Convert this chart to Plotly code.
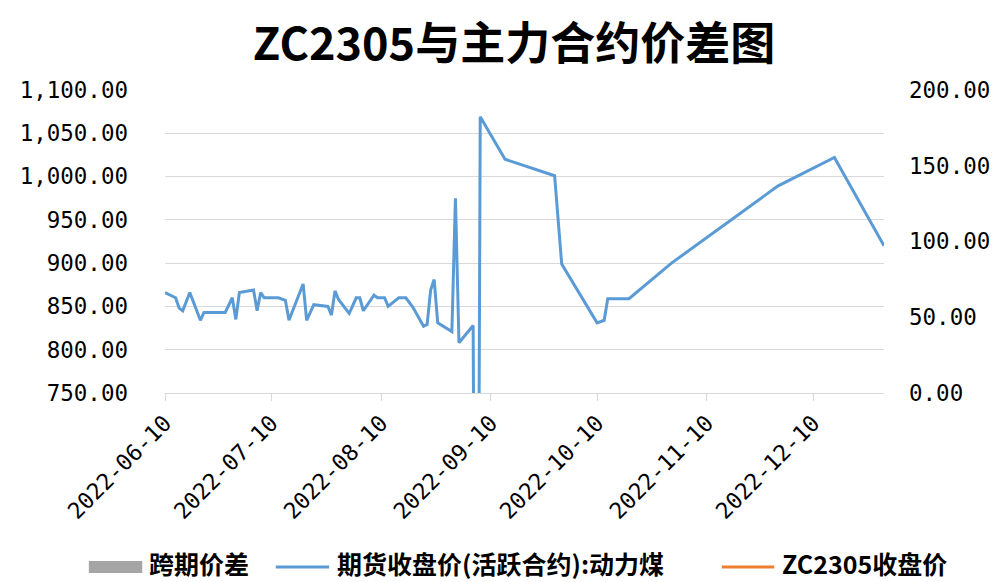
import plotly.graph_objects as go

# ---------------- data ----------------
dates = [
    "2022-06-10", "2022-06-13", "2022-06-14", "2022-06-15", "2022-06-17",
    "2022-06-20", "2022-06-21", "2022-06-27", "2022-06-29", "2022-06-30",
    "2022-07-01", "2022-07-04", "2022-07-05", "2022-07-06", "2022-07-07",
    "2022-07-08", "2022-07-12", "2022-07-14", "2022-07-15", "2022-07-19",
    "2022-07-20", "2022-07-22", "2022-07-25", "2022-07-26", "2022-07-27",
    "2022-07-28", "2022-07-29", "2022-08-01", "2022-08-03", "2022-08-04",
    "2022-08-05", "2022-08-08", "2022-08-09", "2022-08-11", "2022-08-12",
    "2022-08-15", "2022-08-17", "2022-08-19", "2022-08-22", "2022-08-23",
    "2022-08-24", "2022-08-25", "2022-08-26", "2022-08-30", "2022-08-31",
    "2022-09-01", "2022-09-05", "2022-09-06", "2022-09-07", "2022-09-14",
    "2022-09-28", "2022-09-30", "2022-10-10", "2022-10-12", "2022-10-13",
    "2022-10-19", "2022-10-31", "2022-11-30", "2022-12-16", "2022-12-30",
]
active_close = [
    866, 860, 848, 845, 866,
    834, 843, 843, 860, 835,
    866, 868, 869, 845, 866,
    860, 860, 857, 834, 876,
    834, 852, 850, 850, 840,
    868, 858, 842, 860, 860,
    845, 863, 860, 860, 850,
    860, 860, 849, 827, 829,
    869, 881, 831, 821, 975,
    808, 828, 0, 1069, 1020,
    1001, 899, 831, 834, 859,
    859, 900, 989, 1022, 920,
]
spread_dates = []
spread_values = []
zc2305_dates = []
zc2305_values = []

x_tick_vals = ["2022-06-10", "2022-07-10", "2022-08-10", "2022-09-10",
               "2022-10-10", "2022-11-10", "2022-12-10"]
x_tick_text = x_tick_vals
y_left_ticks = [750, 800, 850, 900, 950, 1000, 1050, 1100]
y_right_ticks = [0, 50, 100, 150, 200]

series_names = ["跨期价差", "期货收盘价(活跃合约):动力煤", "ZC2305收盘价"]
title_text = "ZC2305与主力合约价差图"

# ---------------- layout geometry ----------------
# the page body has an 8px margin, so the figure is drawn 8px in from the
# window's top-left corner; positions below are window pixels minus 8.
OFF = 8
W, H = 1002 - OFF, 582 - OFF
L = 165 - OFF
T = 90 - OFF
R = W - (892 - OFF)
B = H - (393 - OFF)

def pxx(p):
    return (p - OFF - L) / (W - L - R)

def pxy(p):
    return (H - B - (p - OFF)) / (H - T - B)

BLUE = "#5B9BD5"
ORANGE = "#ED7D31"
GRAY = "#A5A5A5"
GRID = "#D9D9D9"
MONO = "DejaVu Sans Mono"
CJK = "Noto Sans CJK SC"

fig = go.Figure()
fig.add_trace(go.Bar(x=spread_dates, y=spread_values, name=series_names[0],
                     marker_color=GRAY, yaxis="y2", showlegend=False))
fig.add_trace(go.Scatter(x=dates, y=active_close, name=series_names[1],
                         mode="lines", line=dict(color=BLUE, width=3),
                         showlegend=False))
fig.add_trace(go.Scatter(x=zc2305_dates, y=zc2305_values, name=series_names[2],
                         mode="lines", line=dict(color=ORANGE, width=3),
                         yaxis="y2", showlegend=False))

fig.update_layout(
    width=W, height=H,
    margin=dict(l=L, r=R, t=T, b=B, pad=0),
    paper_bgcolor="white", plot_bgcolor="white",
    title=dict(text=title_text, x=(514 - OFF) / W, y=1 - (44 - OFF) / H,
               xref="container", yref="container", xanchor="center",
               yanchor="middle",
               font=dict(family=CJK, size=45, color="black", weight="bold")),
    xaxis=dict(
        type="date", range=["2022-06-10", "2022-12-30"],
        tickmode="array", tickvals=x_tick_vals, ticktext=x_tick_text,
        tickangle=-45, ticks="outside", ticklen=7, tickcolor=GRID, tickwidth=1,
        showline=True, linecolor=GRID, linewidth=1,
        showgrid=False, zeroline=False,
        tickfont=dict(family=MONO, size=22.5, color="black"),
    ),
    yaxis=dict(
        range=[750, 1100], tickmode="array", tickvals=y_left_ticks,
        tickformat=",.2f", showgrid=True, gridcolor=GRID, gridwidth=1,
        zeroline=False, showline=False, ticks="",
        ticklabelstandoff=36,
        tickfont=dict(family=MONO, size=22.5, color="black"),
    ),
    yaxis2=dict(
        range=[0, 200], overlaying="y", side="right", tickmode="array",
        tickvals=y_right_ticks, tickformat=".2f", showgrid=False,
        zeroline=False, showline=False, ticks="", ticklabelstandoff=24,
        tickfont=dict(family=MONO, size=22.5, color="black"),
    ),
    showlegend=False,
)

# ---------------- custom legend ----------------
ly = 567
fig.add_shape(type="rect", xref="paper", yref="paper",
              x0=pxx(88), x1=pxx(142), y0=pxy(573), y1=pxy(561),
              fillcolor=GRAY, line=dict(width=0))
fig.add_shape(type="line", xref="paper", yref="paper",
              x0=pxx(277), x1=pxx(331), y0=pxy(ly), y1=pxy(ly),
              line=dict(color=BLUE, width=3))
fig.add_shape(type="line", xref="paper", yref="paper",
              x0=pxx(728), x1=pxx(781), y0=pxy(ly), y1=pxy(ly),
              line=dict(color=ORANGE, width=3))
for name, xpos in zip(series_names, [147, 337, 787]):
    fig.add_annotation(text=name, xref="paper", yref="paper",
                       x=pxx(xpos), y=pxy(563), xanchor="left", yanchor="middle",
                       showarrow=False,
                       font=dict(family=CJK, size=25, color="black", weight="bold"))

fig.write_html("out.html")
